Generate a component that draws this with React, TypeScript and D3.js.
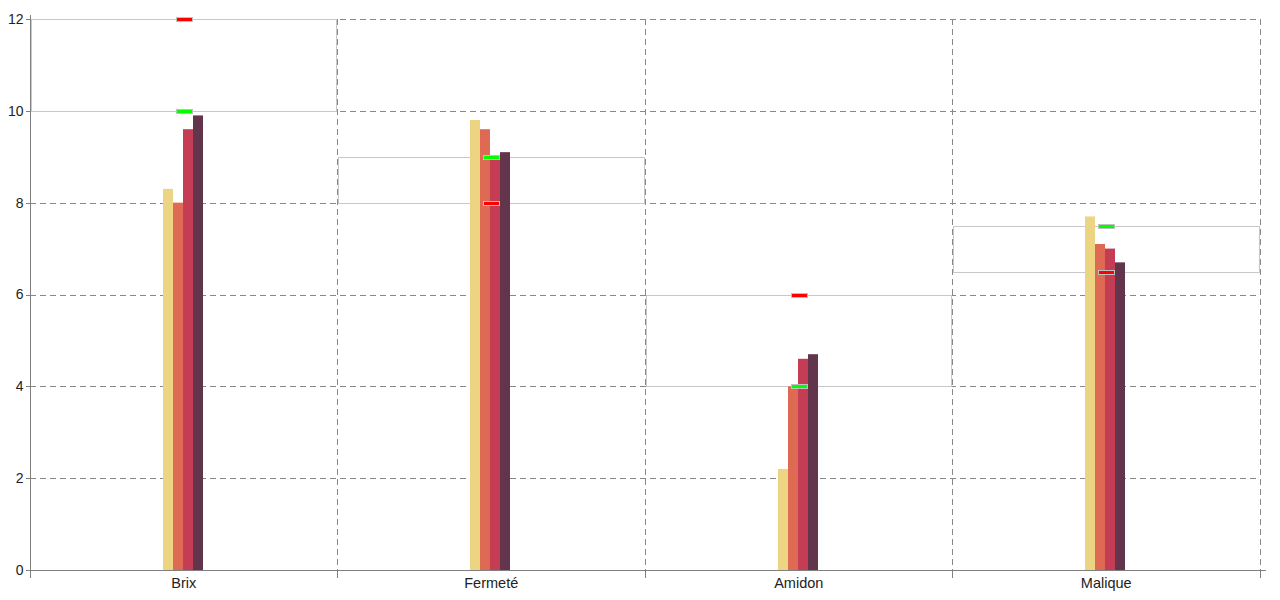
import React from "react";
import * as d3 from "d3";

const categories = ["Brix", "Fermeté", "Amidon", "Malique"];
const seriesNames = ["S1", "S2", "S3", "S4"];
const seriesColors = ["#EDD482", "#DE6A53", "#C43D55", "#63354C"];
const s1 = [8.3, 9.8, 2.2, 7.7];
const s2 = [8.0, 9.6, 4.0, 7.1];
const s3 = [9.6, 9.0, 4.6, 7.0];
const s4 = [9.9, 9.1, 4.7, 6.7];
const greenTargets = [10, 9, 4, 7.5];
const redLimits = [12, 8, 6, 6.5];
const yTicks = [0, 2, 4, 6, 8, 10, 12];

const series = [s1, s2, s3, s4];

export default function App() {
  const W = 1280, H = 600;
  const left = 30, right = 1260, top = 19, bottom = 570;
  const y = d3.scaleLinear().domain([0, 12]).range([bottom, top]);
  const x = d3.scaleBand<string>().domain(categories).range([left, right]).padding(0);
  const bw = x.bandwidth();
  const inner = d3.scaleBand<string>().domain(seriesNames).range([-21, 19]).padding(0);
  const gridColor = "#888";
  const font = "'Liberation Sans', Arial, sans-serif";

  return (
    <svg width={W} height={H} style={{ position: "absolute", left: 0, top: 0, background: "#fff" }}>
      {/* horizontal dashed grid */}
      {yTicks.filter((t) => t > 0).map((t) => (
        <line key={"hg" + t} x1={left} x2={right} y1={Math.round(y(t)) + 0.5} y2={Math.round(y(t)) + 0.5}
          stroke={gridColor} strokeDasharray="6,4" strokeWidth={1} />
      ))}
      {/* vertical dashed grid */}
      {categories.map((c) => {
        const xx = Math.floor((x(c) as number) + bw) + 0.5;
        return <line key={"vg" + c} x1={xx} x2={xx} y1={top} y2={bottom} stroke={gridColor} strokeDasharray="6,4" />;
      })}
      {/* range rectangles */}
      {categories.map((c, i) => {
        const x0 = Math.floor(x(c) as number) + 0.5;
        const x1 = Math.floor((x(c) as number) + bw) + 0.5;
        const hi = Math.max(greenTargets[i], redLimits[i]);
        const lo = Math.min(greenTargets[i], redLimits[i]);
        const y0 = Math.round(y(hi)) + 0.5;
        const y1 = Math.round(y(lo)) + 0.5;
        return <rect key={"rr" + c} x={x0 + 1} y={y0} width={x1 - x0 - 2} height={y1 - y0}
          fill="none" stroke="#c8c8c8" strokeWidth={1} />;
      })}
      {/* bars */}
      {series.map((vals, si) =>
        categories.map((c, ci) => {
          const cx = (x(c) as number) + bw / 2;
          const bx = Math.round(cx + (inner(seriesNames[si]) as number));
          const yt = y(vals[ci]);
          return <rect key={"b" + si + c} x={bx} y={yt} width={Math.round(inner.bandwidth())} height={bottom - yt}
            fill={seriesColors[si]} />;
        })
      )}
      {/* markers */}
      {categories.map((c, i) => {
        const cx = (x(c) as number) + bw / 2;
        return (
          <g key={"m" + c}>
            <rect x={Math.round(cx - 8) + 0.5} y={Math.round(y(greenTargets[i])) - 2 + 0.5} width={16} height={4}
              fill="#00FF00" stroke="#c0c0c0" strokeWidth={1} />
            <rect x={Math.round(cx - 8) + 0.5} y={Math.round(y(redLimits[i])) - 2 + 0.5} width={16} height={4}
              fill="#FF0000" stroke="#c0c0c0" strokeWidth={1} />
          </g>
        );
      })}
      {/* axes */}
      <line x1={left + 0.5} x2={left + 0.5} y1={15} y2={bottom + 8} stroke="#808080" />
      <line x1={left} x2={1266} y1={bottom + 0.5} y2={bottom + 0.5} stroke="#808080" />
      {yTicks.map((t) => (
        <g key={"yt" + t}>
          <line x1={left - 4} x2={left} y1={Math.round(y(t)) + 0.5} y2={Math.round(y(t)) + 0.5} stroke="#808080" />
          <text x={left - 6.5} y={y(t)} dy="0.35em" textAnchor="end" fontFamily={font} fontSize={14} fill="#222">{t}</text>
        </g>
      ))}
      {categories.map((c) => {
        const xx = Math.floor((x(c) as number) + bw) + 0.5;
        return <line key={"xt" + c} x1={xx} x2={xx} y1={bottom} y2={bottom + 8} stroke="#808080" />;
      })}
      {categories.map((c) => (
        <text key={"xl" + c} x={(x(c) as number) + bw / 2} y={588} textAnchor="middle" fontFamily={font} fontSize={14.5} fill="#222">{c}</text>
      ))}
    </svg>
  );
}
